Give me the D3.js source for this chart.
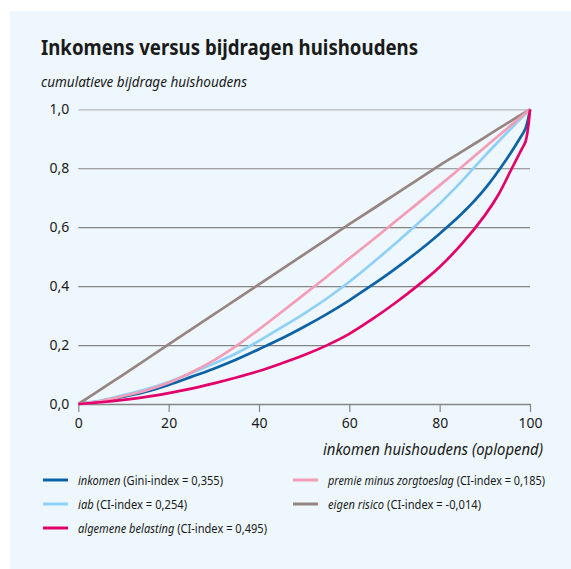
<!DOCTYPE html>
<html>
<head>
<meta charset="utf-8">
<script src="https://cdn.jsdelivr.net/npm/d3@7"></script>
<style>
  html, body { margin: 0; padding: 0; background: #ffffff; }
  #chart { width: 571px; height: 569px; }
  text { font-family: "Noto Sans", "Open Sans", sans-serif; fill: #1a1a1a; }
</style>
</head>
<body>
<div id="chart"></div>
<script>
// x-axis: cumulative share of households, ordered by income
const xTicks = [0, 20, 40, 60, 80, 100];
const yTicks = [0, 0.2, 0.4, 0.6, 0.8, 1.0];
const yTickLabels = ["0,0", "0,2", "0,4", "0,6", "0,8", "1,0"];

// each series: [x, y] points
const inkomen = [[0,0],[5,0.01],[10,0.025],[15,0.042],[20,0.065],[25,0.092],[30,0.12],[35,0.151],[40,0.186],[45,0.222],[50,0.262],[55,0.305],[60,0.352],[65,0.403],[70,0.457],[75,0.515],[80,0.578],[85,0.647],[90,0.73],[95,0.835],[97.5,0.895],[99,0.935],[100,1]];
const iab = [[0,0],[5,0.012],[10,0.03],[15,0.05],[20,0.075],[25,0.105],[30,0.137],[35,0.172],[40,0.214],[45,0.26],[50,0.307],[55,0.358],[60,0.415],[65,0.477],[70,0.542],[75,0.61],[80,0.68],[85,0.758],[90,0.842],[95,0.922],[100,1]];
const algemeneBelasting = [[0,0],[5,0.006],[10,0.014],[15,0.024],[20,0.037],[25,0.052],[30,0.07],[35,0.09],[40,0.112],[45,0.138],[50,0.166],[55,0.199],[60,0.238],[65,0.287],[70,0.341],[75,0.4],[80,0.465],[85,0.545],[90,0.64],[93,0.71],[96,0.8],[98,0.86],[99,0.89],[99.6,0.94],[100,1]];
const premie = [[0,0],[5,0.01],[10,0.027],[15,0.046],[20,0.072],[25,0.107],[30,0.148],[35,0.197],[40,0.253],[45,0.312],[50,0.372],[55,0.432],[60,0.494],[65,0.555],[70,0.617],[75,0.679],[80,0.742],[85,0.806],[90,0.871],[95,0.936],[100,1]];
const eigenRisico = [[0,0],[5,0.05],[10,0.1],[15,0.151],[20,0.202],[25,0.253],[30,0.304],[35,0.355],[40,0.406],[45,0.457],[50,0.508],[55,0.559],[60,0.61],[65,0.66],[70,0.71],[75,0.76],[80,0.81],[85,0.857],[90,0.905],[95,0.953],[100,1]];

const seriesNames = ["inkomen", "iab", "algemene belasting", "premie minus zorgtoeslag", "eigen risico"];
const seriesIndex = ["(Gini-index = 0,355)", "(CI-index = 0,254)", "(CI-index = 0,495)", "(CI-index = 0,185)", "(CI-index = -0,014)"];
const seriesData = [inkomen, iab, algemeneBelasting, premie, eigenRisico];
const seriesColors = ["#0d62a6", "#8fd0f8", "#e4006b", "#f49db6", "#978581"];

const W = 571, H = 569;
const margin = {top: 109.3, right: 41, bottom: 165, left: 78.3};
const width = W - margin.left - margin.right;
const height = H - margin.top - margin.bottom;

const svg = d3.select("#chart").append("svg")
    .attr("width", W)
    .attr("height", H);

// light blue panel
svg.append("rect")
    .attr("x", 10).attr("y", 11)
    .attr("width", W - 10).attr("height", H - 11)
    .attr("fill", "#eef7fd");

svg.append("text")
    .attr("x", 41).attr("y", 55)
    .attr("font-size", 22)
    .attr("font-weight", 700)
    .attr("textLength", 377)
    .attr("lengthAdjust", "spacingAndGlyphs")
    .text("Inkomens versus bijdragen huishoudens");

svg.append("text")
    .attr("x", 41).attr("y", 87)
    .attr("font-size", 15)
    .attr("font-style", "italic")
    .attr("textLength", 206)
    .attr("lengthAdjust", "spacingAndGlyphs")
    .text("cumulatieve bijdrage huishoudens");

const g = svg.append("g")
    .attr("transform", "translate(" + margin.left + "," + margin.top + ")");

const x = d3.scaleLinear().domain([0, 100]).range([0, width]);
const y = d3.scaleLinear().domain([0, 1]).range([height, 0]);

// gridlines + y labels
const yAxis = d3.axisLeft(y)
    .tickValues(yTicks)
    .tickSize(-width)
    .tickPadding(9)
    .tickFormat((d, i) => yTickLabels[i]);

const gy = g.append("g").attr("class", "y-axis").call(yAxis);
gy.select(".domain").remove();
gy.selectAll(".tick line")
    .attr("stroke", (d) => d === 1 ? "#b8b8b8" : "#858585")
    .attr("stroke-width", 1.2);
gy.selectAll(".tick text")
    .attr("font-size", 14)
    .attr("fill", "#1a1a1a");

// x axis
const xAxis = d3.axisBottom(x)
    .tickValues(xTicks)
    .tickSize(8)
    .tickSizeOuter(0)
    .tickPadding(6);

const gx = g.append("g").attr("class", "x-axis")
    .attr("transform", "translate(0," + height + ")")
    .call(xAxis);
gx.select(".domain").attr("stroke", "#858585").attr("stroke-width", 1.4);
gx.selectAll(".tick line").attr("stroke", "#858585").attr("stroke-width", 1.2);
gx.selectAll(".tick text")
    .attr("font-size", 14)
    .attr("fill", "#1a1a1a");

svg.append("text")
    .attr("x", 543).attr("y", 455)
    .attr("text-anchor", "end")
    .attr("font-size", 16)
    .attr("font-style", "italic")
    .attr("textLength", 220)
    .attr("lengthAdjust", "spacingAndGlyphs")
    .text("inkomen huishoudens (oplopend)");

// lines
const line = d3.line()
    .x(d => x(d[0]))
    .y(d => y(d[1]))
    .curve(d3.curveCatmullRom.alpha(0.5));

const drawOrder = [4, 0, 1, 3, 2];
drawOrder.forEach(i => {
    g.append("path")
        .datum(seriesData[i])
        .attr("fill", "none")
        .attr("stroke", seriesColors[i])
        .attr("stroke-width", 2.7)
        .attr("stroke-linejoin", "round")
        .attr("d", line);
});

// legend
const legendPos = [
    {x: 43, y: 480, w: 145},
    {x: 43, y: 504, w: 109},
    {x: 43, y: 528, w: 189},
    {x: 293, y: 480, w: 217},
    {x: 293, y: 504, w: 153}
];

seriesNames.forEach((name, i) => {
    const p = legendPos[i];
    svg.append("line")
        .attr("x1", p.x).attr("x2", p.x + 25)
        .attr("y1", p.y).attr("y2", p.y)
        .attr("stroke", seriesColors[i])
        .attr("stroke-width", 3);
    const t = svg.append("text")
        .attr("x", p.x + 35).attr("y", p.y + 4.5)
        .attr("font-size", 13)
        .attr("textLength", p.w)
        .attr("lengthAdjust", "spacingAndGlyphs");
    t.append("tspan").attr("font-style", "italic").text(name + " ");
    t.append("tspan").text(seriesIndex[i]);
});
</script>
</body>
</html>
